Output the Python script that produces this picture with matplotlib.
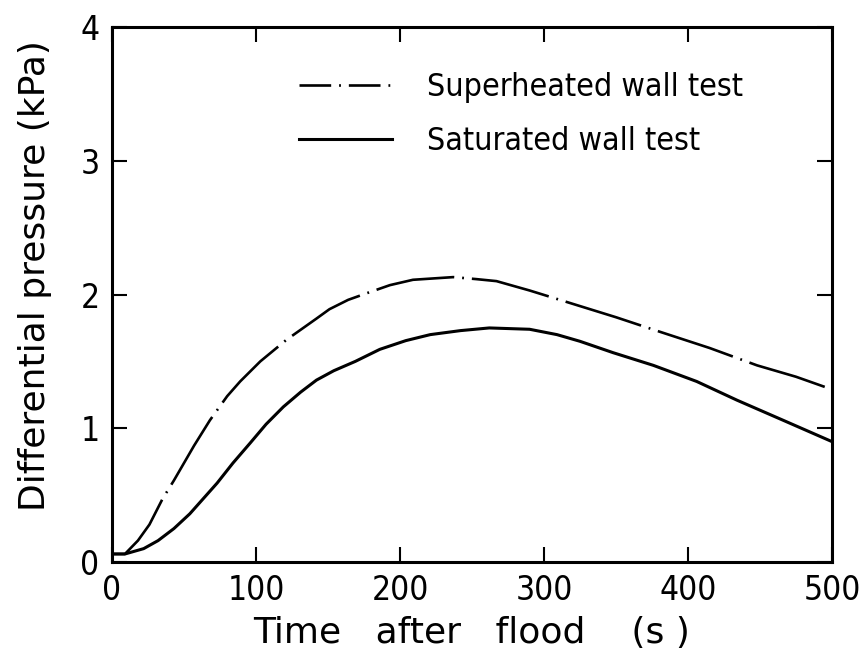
import matplotlib
matplotlib.use("Agg")
import matplotlib.pyplot as plt
from matplotlib.lines import Line2D

# Data
t_super = [0, 9, 18, 26, 35, 43, 57, 68, 80, 89, 103, 121, 142, 151, 164, 177,
           193, 209, 223, 237, 253, 267, 290, 311, 323, 350, 378, 415, 448, 475, 500]
p_super = [0.06, 0.06, 0.16, 0.28, 0.47, 0.61, 0.87, 1.06, 1.24, 1.35, 1.50, 1.66,
           1.82, 1.89, 1.96, 2.01, 2.07, 2.11, 2.12, 2.13, 2.115, 2.10, 2.03, 1.96,
           1.92, 1.83, 1.73, 1.60, 1.47, 1.385, 1.29]

t_sat = [0, 9, 22, 32, 43, 54, 73, 84, 96, 107, 119, 131, 142, 154, 169, 186,
         204, 221, 242, 262, 290, 309, 325, 348, 376, 406, 434, 466, 500]
p_sat = [0.06, 0.06, 0.10, 0.16, 0.25, 0.36, 0.59, 0.74, 0.89, 1.03, 1.16, 1.27,
         1.36, 1.43, 1.50, 1.59, 1.655, 1.70, 1.73, 1.75, 1.74, 1.70, 1.65, 1.565,
         1.47, 1.35, 1.21, 1.06, 0.90]

x_ticks = [0, 100, 200, 300, 400, 500]
y_ticks = [0, 1, 2, 3, 4]
label_super = "Superheated wall test"
label_sat = "Saturated wall test"
xlabel = "Time   after   flood    (s )"
ylabel = "Differential pressure (kPa)"

COND = dict(family="DejaVu Sans", stretch="condensed")

W, H = 867, 672
fig = plt.figure(figsize=(W / 100, H / 100), dpi=100)
ax = fig.add_axes([112 / W, 1 - 562 / H, (832 - 112) / W, (562 - 27) / H])

ax.plot(t_super, p_super, color="black", lw=1.9,
        linestyle=(0, (30, 3, 0.7, 3)), solid_joinstyle="round")
ax.plot(t_sat, p_sat, color="black", lw=2.2, linestyle="-",
        solid_joinstyle="round")

ax.set_xlim(0, 500)
ax.set_ylim(0, 4)
ax.set_xticks(x_ticks)
ax.set_yticks(y_ticks)
ax.tick_params(direction="in", length=11, width=1.5, top=True, right=True,
               labelsize=24, pad=9)
for lab in ax.get_xticklabels() + ax.get_yticklabels():
    lab.set_fontfamily(COND["family"])
    lab.set_fontstretch(COND["stretch"])
for s in ax.spines.values():
    s.set_linewidth(2.2)

ax.set_xlabel(xlabel, fontsize=26, labelpad=6, family="DejaVu Sans")
ax.set_ylabel(ylabel, fontsize=26, family="DejaVu Sans")
ax.yaxis.set_label_coords(-0.083, 0.535)

handles = [
    Line2D([], [], color="black", lw=1.9, linestyle=(0, (12, 3, 0.7, 3))),
    Line2D([], [], color="black", lw=2.2, linestyle="-"),
]
leg = ax.legend(handles, [label_super, label_sat], loc="upper left",
                bbox_to_anchor=(0.22, 0.97), frameon=False,
                prop=dict(size=23, **COND), handlelength=2.9,
                handletextpad=1.1, labelspacing=0.73)

fig.savefig("out.png", dpi=100)
